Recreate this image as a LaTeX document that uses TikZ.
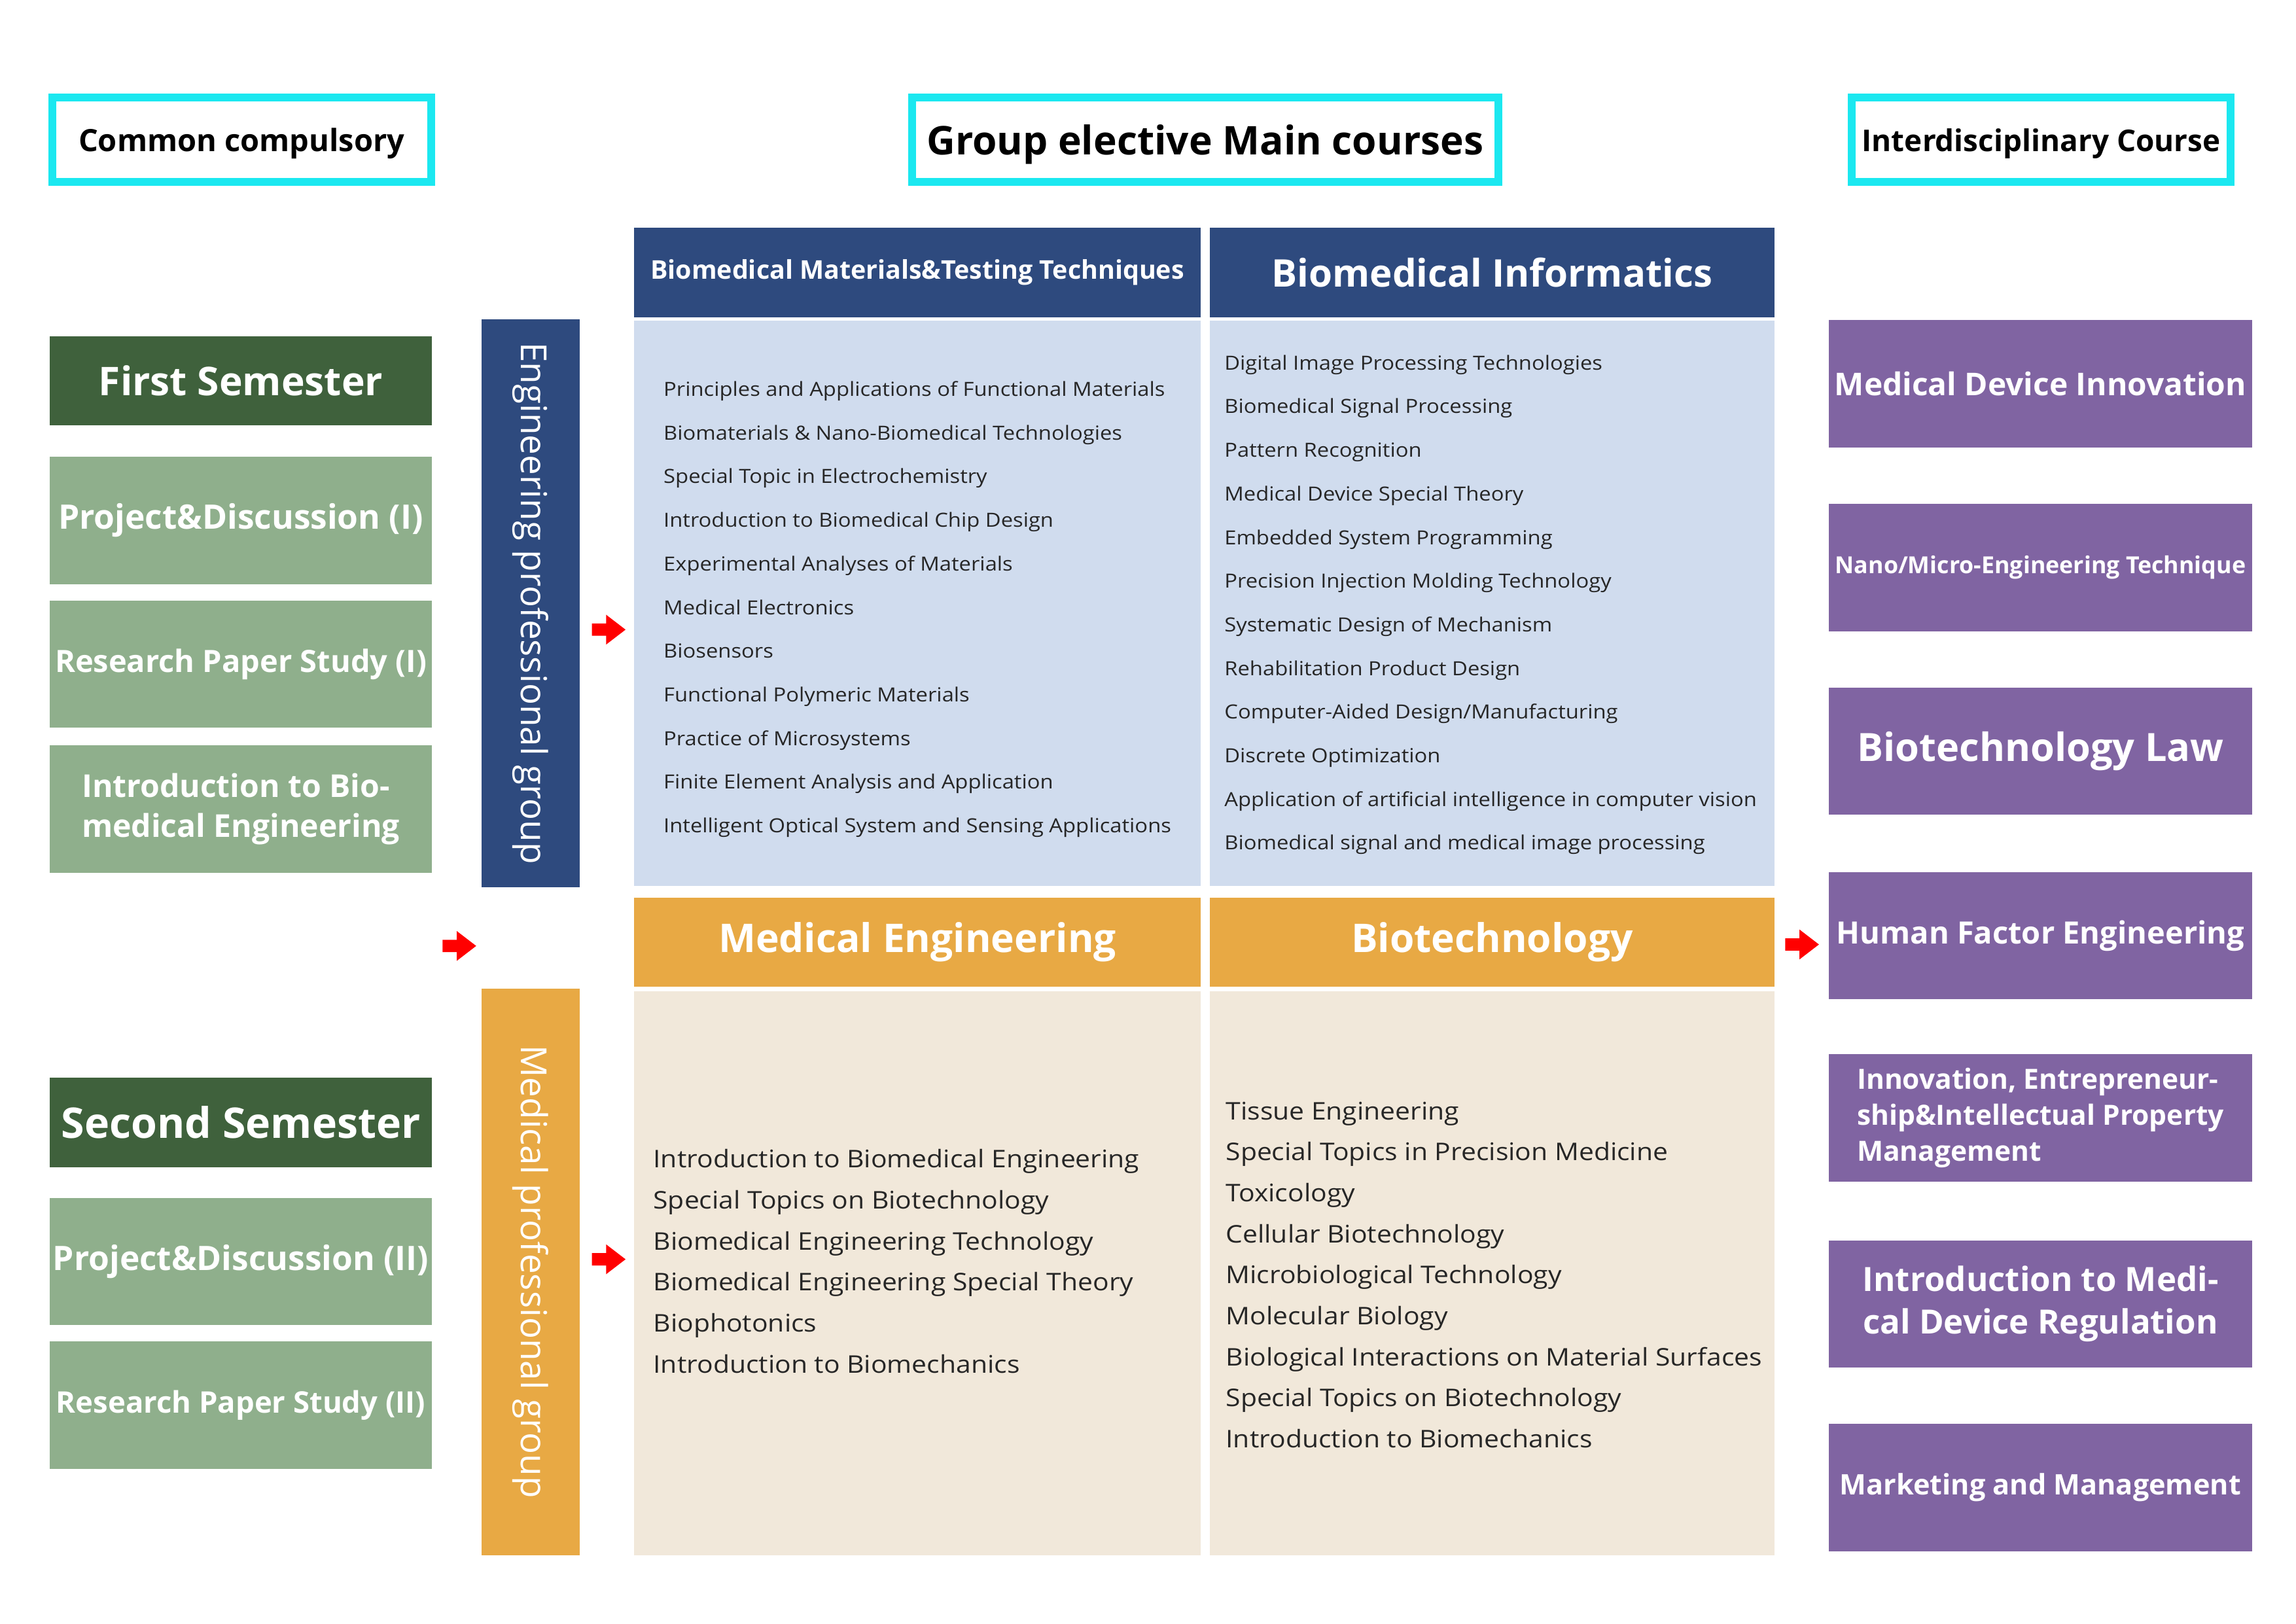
\documentclass[tikz,border=0pt]{standalone}
\usepackage{fontspec}
\setmainfont{Open Sans}
\newfontfamily\crsfont{Open Sans}[FakeStretch=1.1]
\usetikzlibrary{shapes.arrows}

\definecolor{ccCyan}{RGB}{27,232,240}
\definecolor{ccDkGreen}{RGB}{63,97,60}
\definecolor{ccLtGreen}{RGB}{143,175,140}
\definecolor{ccNavy}{RGB}{46,74,126}
\definecolor{ccSky}{RGB}{208,220,238}
\definecolor{ccOrange}{RGB}{232,169,68}
\definecolor{ccBeige}{RGB}{241,232,218}
\definecolor{ccPurple}{RGB}{128,100,162}

\tikzset{
  %% column titles (cyan frame)
  titlebox/.style={draw=ccCyan, line width=5.4pt, fill=white, inner sep=0pt,
    minimum width=258.6pt, minimum height=57.6pt, text depth=0pt,
    font=\bfseries\fontsize{21}{24}\selectfont},
  %% left column
  semhead/.style={fill=ccDkGreen, text=white, minimum width=261pt, minimum height=61pt,
    inner xsep=1pt, font=\bfseries\fontsize{27}{30}\selectfont},
  compbox/.style={fill=ccLtGreen, text=white, minimum width=261pt, minimum height=87pt,
    inner xsep=1pt, align=center, font=\bfseries\fontsize{23}{27}\selectfont},
  %% group bars
  grpbar/.style={text=white, rotate=-90, minimum width=388pt, minimum height=67pt,
    font=\fontsize{24.5}{28}\selectfont},
  %% grid cells
  gridhead/.style={text=white, minimum width=387pt, minimum height=61pt,
    inner xsep=1pt, font=\bfseries\fontsize{27}{30}\selectfont},
  gridbody/.style={minimum width=387pt, minimum height=386pt},
  crsSmall/.style={anchor=west, inner sep=0pt, text height=0.72em, text depth=0pt,
    text=black!85, font=\crsfont\fontsize{13.3}{15}\selectfont},
  crsLarge/.style={anchor=west, inner sep=0pt, text height=0.72em, text depth=0pt,
    text=black!85, font=\crsfont\fontsize{16.6}{19}\selectfont},
  %% right column
  intbox/.style={fill=ccPurple, text=white, minimum width=289pt, minimum height=87pt,
    inner xsep=1pt, align=center, font=\bfseries\fontsize{21}{24}\selectfont},
  %% red block arrows
  redarrow/.style={single arrow, fill=red, draw=none, anchor=tail, inner sep=4pt,
    minimum height=23pt, single arrow head extend=6pt, single arrow tip angle=75},
}

\begin{document}
\begin{tikzpicture}[x=1pt, y=-1pt]
\useasboundingbox (0,0) rectangle (1568,1109);

%% Column titles
\node[titlebox] (tCommon) at (165,95.5) {Common compulsory};
\node[titlebox, minimum width=400.6pt, font=\bfseries\fontsize{27}{30}\selectfont]
  (tGroup) at (823,95.5) {Group elective Main courses};
\node[titlebox, font=\bfseries\fontsize{20.5}{23}\selectfont]
  (tInter) at (1394,95.5) {Interdisciplinary Course};

%% Common compulsory column
\node[semhead] (sem1) at (164.5,260) {First Semester};
\node[compbox] (pd1)  at (164.5,355.5) {Project\&Discussion (I)};
\node[compbox, font=\bfseries\fontsize{21}{24}\selectfont] (rp1) at (164.5,453.5) {Research Paper Study (I)};
\node[compbox, align=left, font=\bfseries\fontsize{21.5}{27}\selectfont] (ibe) at (164.5,552.5) {Introduction to Bio-\\medical Engineering};
\node[semhead, font=\bfseries\fontsize{28.8}{32}\selectfont] (sem2) at (164.5,766.5) {Second Semester};
\node[compbox] (pd2)  at (164.5,861.5) {Project\&Discussion (II)};
\node[compbox, font=\bfseries\fontsize{20.3}{24}\selectfont] (rp2) at (164.5,959.5) {Research Paper Study (II)};

%% Professional group bars
\node[grpbar, fill=ccNavy] (engGrp) at (362.5,412) {Engineering professional group};
\node[grpbar, fill=ccOrange, minimum width=387pt] (medGrp) at (362.5,868.5) {Medical professional group};

%% Group elective grid
\node[gridhead, fill=ccNavy, font=\bfseries\fontsize{17.6}{20}\selectfont] (hMat) at (626.5,186) {Biomedical Materials\&Testing Techniques};
\node[gridhead, fill=ccNavy, minimum width=386pt, font=\bfseries\fontsize{26}{30}\selectfont] (hInf) at (1019,186) {Biomedical Informatics};
\node[gridbody, fill=ccSky] (bMat) at (626.5,412) {};
\node[gridbody, fill=ccSky, minimum width=386pt] (bInf) at (1019,412) {};
\node[gridhead, fill=ccOrange] (hMed) at (626.5,643.5) {Medical Engineering};
\node[gridhead, fill=ccOrange, minimum width=386pt] (hBio) at (1019,643.5) {Biotechnology};
\node[gridbody, fill=ccBeige, minimum height=385pt] (bMed) at (626.5,869.5) {};
\node[gridbody, fill=ccBeige, minimum width=386pt, minimum height=385pt] (bBio) at (1019,869.5) {};

%% Course lists
\foreach \crs [count=\i from 0] in {Principles and Applications of Functional Materials,
    Biomaterials \& Nano-Biomedical Technologies, Special Topic in Electrochemistry,
    Introduction to Biomedical Chip Design, Experimental Analyses of Materials,
    Medical Electronics, Biosensors, Functional Polymeric Materials,
    Practice of Microsystems, Finite Element Analysis and Application,
    Intelligent Optical System and Sensing Applications}
  \node[crsSmall] (mat\i) at (453,{267+29.8*\i}) {\crs};

\foreach \crs [count=\i from 0] in {Digital Image Processing Technologies,
    Biomedical Signal Processing, Pattern Recognition, Medical Device Special Theory,
    Embedded System Programming, Precision Injection Molding Technology,
    Systematic Design of Mechanism, Rehabilitation Product Design,
    Computer-Aided Design/Manufacturing, Discrete Optimization,
    Application of artificial intelligence in computer vision,
    Biomedical signal and medical image processing}
  \node[crsSmall] (inf\i) at (836,{249+29.8*\i}) {\crs};

\foreach \crs [count=\i from 0] in {Introduction to Biomedical Engineering,
    Special Topics on Biotechnology, Biomedical Engineering Technology,
    Biomedical Engineering Special Theory, Biophotonics, Introduction to Biomechanics}
  \node[crsLarge] (med\i) at (446,{794+28*\i}) {\crs};

\foreach \crs [count=\i from 0] in {Tissue Engineering, Special Topics in Precision Medicine,
    Toxicology, Cellular Biotechnology, Microbiological Technology, Molecular Biology,
    Biological Interactions on Material Surfaces, Special Topics on Biotechnology,
    Introduction to Biomechanics}
  \node[crsLarge] (bio\i) at (837,{761+28*\i}) {\crs};

%% Interdisciplinary column
\node[intbox, font=\bfseries\fontsize{21.4}{26}\selectfont] (iMdi) at (1393.5,262) {Medical Device Innovation};
\node[intbox, font=\bfseries\fontsize{16}{18}\selectfont] (iNano) at (1393.5,387.5) {Nano/Micro-Engineering Technique};
\node[intbox, font=\bfseries\fontsize{26.6}{30}\selectfont] (iLaw) at (1393.5,513) {Biotechnology Law};
\node[intbox, font=\bfseries\fontsize{21}{25}\selectfont] (iHfe) at (1393.5,639) {Human Factor Engineering};
\node[intbox, align=left, font=\bfseries\fontsize{19}{24.5}\selectfont] (iIep) at (1393.5,763.5) {Innovation, Entrepreneur-\\ship\&Intellectual Property\\Management};
\node[intbox, font=\bfseries\fontsize{22.8}{29}\selectfont] (iReg) at (1393.5,890.5) {Introduction to Medi-\\cal Device Regulation};
\node[intbox, font=\bfseries\fontsize{19.3}{24}\selectfont] (iMkt) at (1393.5,1016) {Marketing and Management};

%% Red arrows
\node[redarrow] (arrCommon) at (302,646) {};
\node[redarrow] (arrEng)    at (404,430) {};
\node[redarrow] (arrMed)    at (404,860) {};
\node[redarrow] (arrInter)  at (1219,645) {};

\end{tikzpicture}
\end{document}
